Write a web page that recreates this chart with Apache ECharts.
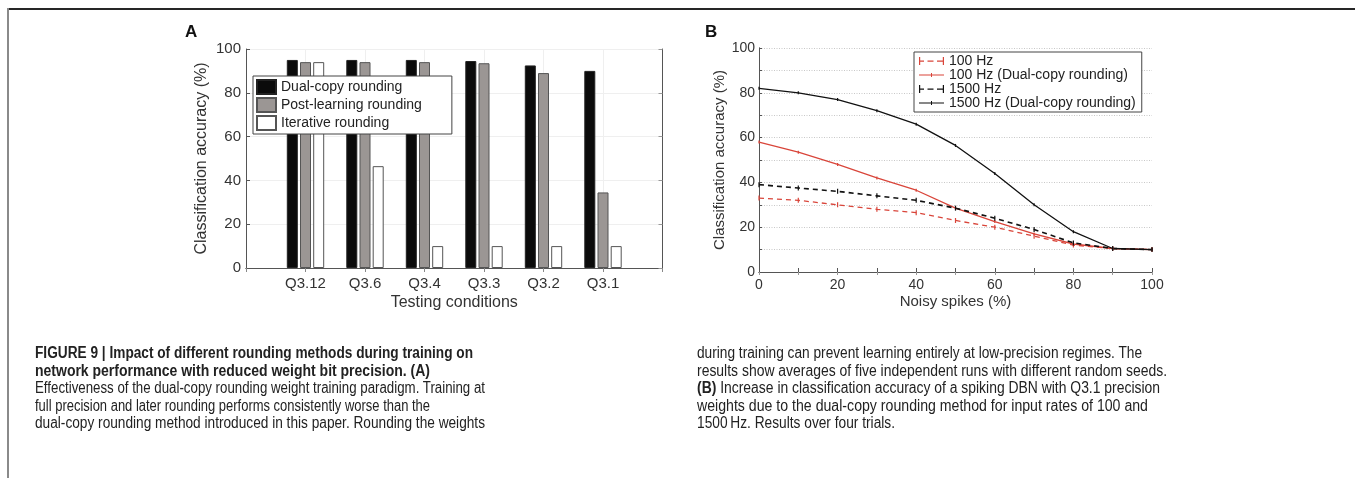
<!DOCTYPE html>
<html>
<head>
<meta charset="utf-8">
<script src="https://cdn.jsdelivr.net/npm/echarts@6/dist/echarts.min.js"></script>
<style>
html,body{margin:0;padding:0;background:#fff;}
#chart{position:absolute;left:0;top:0;width:1355px;height:478px;}
.frameTop{position:absolute;left:7px;top:8px;width:1348px;height:2px;background:#262626;}
.frameLeft{position:absolute;left:7px;top:8px;width:2px;height:470px;background:#8a8a8a;}
.cap{position:absolute;top:344px;font-family:"Liberation Sans",Arial,sans-serif;font-size:16px;line-height:17.5px;color:#222;white-space:nowrap;}
.cap div{height:17.5px;}
.cap span.ln{display:inline-block;transform-origin:0 50%;}
.cap b{font-weight:bold;}
</style>
</head>
<body>
<div id="chart"></div>
<div class="frameTop"></div>
<div class="frameLeft"></div>
<div class="cap" style="left:35px;">
<div><span class="ln" data-w="438"><b>FIGURE 9 | Impact of different rounding methods during training on</b></span></div>
<div><span class="ln" data-w="395"><b>network performance with reduced weight bit precision. (A)</b></span></div>
<div><span class="ln" data-w="450">Effectiveness of the dual-copy rounding weight training paradigm. Training at</span></div>
<div><span class="ln" data-w="395">full precision and later rounding performs consistently worse than the</span></div>
<div><span class="ln" data-w="450">dual-copy rounding method introduced in this paper. Rounding the weights</span></div>
</div>
<div class="cap" style="left:697px;">
<div><span class="ln" data-w="445">during training can prevent learning entirely at low-precision regimes. The</span></div>
<div><span class="ln" data-w="470">results show averages of five independent runs with different random seeds.</span></div>
<div><span class="ln" data-w="463"><b>(B)</b> Increase in classification accuracy of a spiking DBN with Q3.1 precision</span></div>
<div><span class="ln" data-w="451">weights due to the dual-copy rounding method for input rates of 100 and</span></div>
<div><span class="ln" data-w="198">1500&#8201;Hz. Results over four trials.</span></div>
</div>
<script>
// Panel A data
const categoriesA = ['Q3.12', 'Q3.6', 'Q3.4', 'Q3.3', 'Q3.2', 'Q3.1'];
const dualCopyA = [95, 95, 95, 94.5, 92.5, 90];
const postLearningA = [94, 94, 94, 93.5, 89, 34.5];
const iterativeA = [94, 46.5, 10, 10, 10, 10];
const yTicksA = [0, 20, 40, 60, 80, 100];

// Panel B data
const noiseB = [0, 10, 20, 30, 40, 50, 60, 70, 80, 90, 100];
const hz100 = [33, 32, 30, 28, 26.5, 23, 20, 16, 12, 10.5, 10];
const hz100Dual = [58, 53.5, 48, 42, 36.5, 28.5, 22.5, 17, 12.5, 10.5, 10];
const hz1500 = [39, 37.5, 36, 34, 32, 28.5, 24, 19, 13, 10.5, 10];
const hz1500Dual = [82, 80, 77, 72, 66, 56.5, 44, 30, 18, 10.5, 10];
const xTicksB = [0, 20, 40, 60, 80, 100];
const yTicksB = [0, 20, 40, 60, 80, 100];

// fit caption lines to the reference line widths (layout only)
document.querySelectorAll('.cap span.ln').forEach(s => {
  const w = s.getBoundingClientRect().width;
  const t = parseFloat(s.dataset.w);
  if (w > 0) s.style.transform = 'scaleX(' + (t / w).toFixed(4) + ')';
});

const FONT = '"Liberation Sans", Arial, sans-serif';
const pad = arr => [null].concat(arr, [null]);
const catsPadded = [''].concat(categoriesA, ['']);
const pairs = (xs, ys) => xs.map((x, i) => [x, ys[i]]);

const chart = echarts.init(document.getElementById('chart'), null, {renderer: 'canvas'});
const lineCol = '#555';
const txtA = {color: '#333', fontSize: 15, fontFamily: FONT};
const txtB = {color: '#333', fontSize: 14, fontFamily: FONT};

const ICON_DASH = 'path://M0,1h1.2v8h-1.2z M23.8,1h1.2v8h-1.2z M0,4.4h5v1.3h-5z M8.5,4.4h6v1.3h-6z M18,4.4h7v1.3h-7z';
const ICON_SOLID = 'path://M0,4.4h25v1.2h-25z M12,3h1v4h-1z';

const option = {
  animation: false,
  backgroundColor: '#fff',
  textStyle: {fontFamily: FONT},
  graphic: [
    {type: 'text', left: 185, top: 24, style: {text: 'A', font: 'bold 17px ' + FONT, fill: '#111'}},
    {type: 'text', left: 705, top: 24, style: {text: 'B', font: 'bold 17px ' + FONT, fill: '#111'}}
  ],
  grid: [
    {left: 246, top: 49, width: 416.5, height: 219, containLabel: false},
    {left: 759, top: 48, width: 393, height: 224, containLabel: false}
  ],
  legend: [
    {
      orient: 'vertical', left: 253, top: 76,
      data: ['Dual-copy rounding', 'Post-learning rounding', 'Iterative rounding'],
      itemWidth: 19, itemHeight: 14, itemGap: 2,
      padding: [3, 30, 3, 3],
      backgroundColor: '#fff', borderColor: '#444', borderWidth: 1,
      textStyle: {fontSize: 14, color: '#222', fontFamily: FONT, lineHeight: 14},
      icon: 'rect'
    },
    {
      orient: 'vertical', left: 914, top: 52,
      data: [
        {name: '100 Hz', icon: ICON_DASH},
        {name: '100 Hz (Dual-copy rounding)', icon: ICON_SOLID},
        {name: '1500 Hz', icon: ICON_DASH},
        {name: '1500 Hz (Dual-copy rounding)', icon: ICON_SOLID}
      ],
      itemWidth: 25, itemHeight: 10, itemGap: 0,
      padding: [2, 6, 2, 5],
      backgroundColor: '#fff', borderColor: '#444', borderWidth: 1,
      textStyle: {fontSize: 14, color: '#222', fontFamily: FONT, lineHeight: 13.5}
    }
  ],
  xAxis: [
    {
      type: 'category', gridIndex: 0, data: catsPadded, boundaryGap: false,
      axisLine: {lineStyle: {color: lineCol}},
      axisTick: {inside: true, length: 4, lineStyle: {color: lineCol}},
      axisLabel: Object.assign({margin: 8, interval: 0}, txtA),
      splitLine: {show: true, lineStyle: {color: '#efefef'}},
      name: 'Testing conditions', nameLocation: 'middle', nameGap: 27,
      nameTextStyle: {fontSize: 16, color: '#333', fontFamily: FONT}
    },
    {
      type: 'category', gridIndex: 0, data: catsPadded, boundaryGap: false, position: 'top',
      axisLine: {lineStyle: {color: lineCol}},
      axisTick: {inside: true, length: 4, lineStyle: {color: '#888'}},
      axisLabel: {show: false}, splitLine: {show: false}
    },
    {
      type: 'value', gridIndex: 1, min: 0, max: 100, interval: 10,
      axisLine: {lineStyle: {color: lineCol}},
      axisTick: {inside: true, length: 4, lineStyle: {color: lineCol}},
      axisLabel: Object.assign({margin: 6, formatter: v => xTicksB.includes(v) ? String(v) : ''}, txtB),
      splitLine: {show: false},
      name: 'Noisy spikes (%)', nameLocation: 'middle', nameGap: 22,
      nameTextStyle: {fontSize: 15, color: '#333', fontFamily: FONT}
    },
    {
      type: 'value', gridIndex: 1, min: 0, max: 100, interval: 10, position: 'top',
      axisLine: {lineStyle: {color: lineCol}},
      axisTick: {inside: true, length: 3, lineStyle: {color: '#999'}},
      axisLabel: {show: false}, splitLine: {show: false}
    }
  ],
  yAxis: [
    {
      type: 'value', gridIndex: 0, min: 0, max: 100, interval: 20,
      axisLine: {show: true, lineStyle: {color: lineCol}},
      axisTick: {show: true, inside: true, length: 4, lineStyle: {color: lineCol}},
      axisLabel: Object.assign({margin: 5, formatter: v => yTicksA.includes(v) ? String(v) : ''}, txtA),
      splitLine: {show: true, lineStyle: {color: '#efefef'}},
      name: 'Classification accuracy (%)', nameLocation: 'middle', nameGap: 36,
      nameTextStyle: {fontSize: 16, color: '#333', fontFamily: FONT}
    },
    {
      type: 'value', gridIndex: 0, min: 0, max: 100, interval: 20, position: 'right',
      axisLine: {show: true, lineStyle: {color: lineCol}},
      axisTick: {show: true, inside: true, length: 4, lineStyle: {color: '#999'}},
      axisLabel: {show: false}, splitLine: {show: false}
    },
    {
      type: 'value', gridIndex: 1, min: 0, max: 100, interval: 10,
      axisLine: {show: true, lineStyle: {color: lineCol}},
      axisTick: {show: true, inside: true, length: 3, lineStyle: {color: lineCol}},
      axisLabel: Object.assign({margin: 4, formatter: v => yTicksB.includes(v) ? String(v) : ''}, txtB),
      splitLine: {show: true, lineStyle: {color: '#c8c8c8', type: [1, 1.5]}},
      name: 'Classification accuracy (%)', nameLocation: 'middle', nameGap: 30,
      nameTextStyle: {fontSize: 15, color: '#333', fontFamily: FONT}
    },
    {
      type: 'value', gridIndex: 1, min: 0, max: 100, interval: 10, position: 'right',
      axisLine: {show: true, lineStyle: {color: lineCol}},
      axisTick: {show: false}, axisLabel: {show: false}, splitLine: {show: false}
    }
  ],
  series: [
    {
      name: 'Dual-copy rounding', type: 'bar', xAxisIndex: 0, yAxisIndex: 0,
      data: pad(dualCopyA), barWidth: 11, barGap: '20%',
      itemStyle: {color: '#0b0b0b', borderColor: '#222', borderWidth: 1}
    },
    {
      name: 'Post-learning rounding', type: 'bar', xAxisIndex: 0, yAxisIndex: 0,
      data: pad(postLearningA), barWidth: 11, barGap: '20%',
      itemStyle: {color: '#9b9694', borderColor: '#555', borderWidth: 1}
    },
    {
      name: 'Iterative rounding', type: 'bar', xAxisIndex: 0, yAxisIndex: 0,
      data: pad(iterativeA), barWidth: 11, barGap: '20%',
      itemStyle: {color: '#ffffff', borderColor: '#555', borderWidth: 1}
    },
    {
      name: '100 Hz', type: 'line', xAxisIndex: 2, yAxisIndex: 2,
      data: pairs(noiseB, hz100), symbol: 'rect', symbolSize: [1.2, 5],
      itemStyle: {color: '#d9453a'}, lineStyle: {color: '#d9453a', width: 1.3, type: [5, 4]}
    },
    {
      name: '100 Hz (Dual-copy rounding)', type: 'line', xAxisIndex: 2, yAxisIndex: 2,
      data: pairs(noiseB, hz100Dual), symbol: 'rect', symbolSize: [1.2, 3],
      itemStyle: {color: '#d9453a'}, lineStyle: {color: '#d9453a', width: 1.3}
    },
    {
      name: '1500 Hz', type: 'line', xAxisIndex: 2, yAxisIndex: 2,
      data: pairs(noiseB, hz1500), symbol: 'rect', symbolSize: [1.2, 5],
      itemStyle: {color: '#111'}, lineStyle: {color: '#111', width: 1.6, type: [5, 4]}
    },
    {
      name: '1500 Hz (Dual-copy rounding)', type: 'line', xAxisIndex: 2, yAxisIndex: 2,
      data: pairs(noiseB, hz1500Dual), symbol: 'rect', symbolSize: [1.2, 3],
      itemStyle: {color: '#111'}, lineStyle: {color: '#111', width: 1.3}
    }
  ]
};
chart.setOption(option);
</script>
</body>
</html>
